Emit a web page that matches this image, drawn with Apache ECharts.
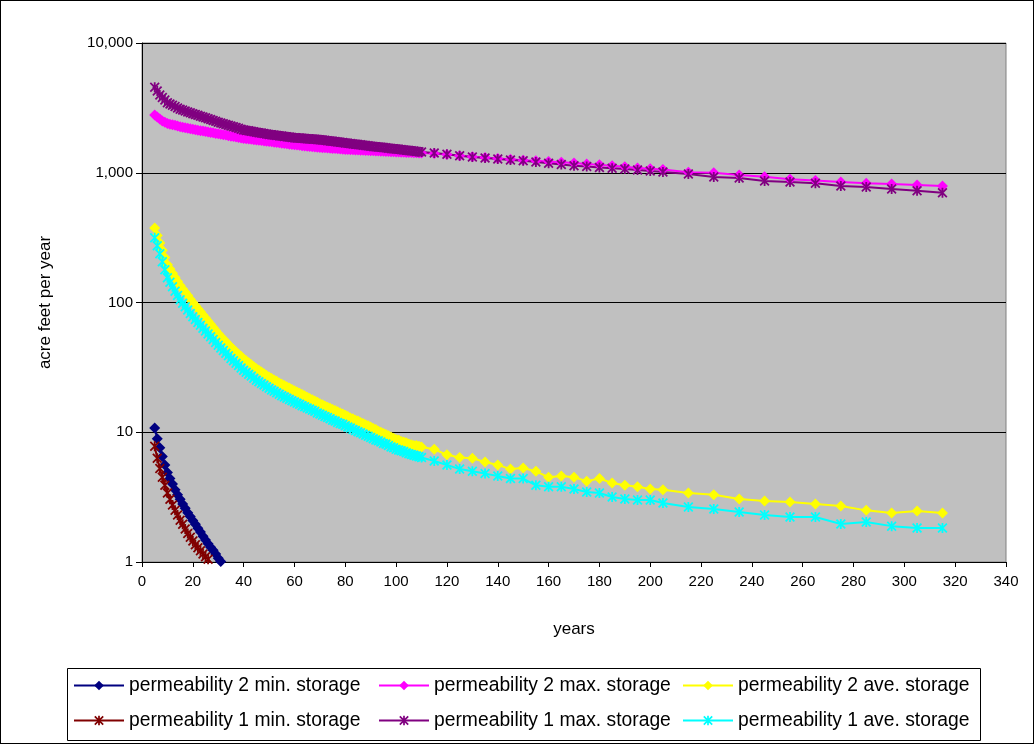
<!DOCTYPE html>
<html>
<head>
<meta charset="utf-8">
<script src="https://cdn.jsdelivr.net/npm/echarts@6/dist/echarts.min.js"></script>
<style>
html, body { margin: 0; padding: 0; background: #fff; }
#chart { width: 1034px; height: 744px; }
#frame { position: absolute; left: 0; top: 0; width: 1034px; height: 744px; box-sizing: border-box; border: 1px solid #000; pointer-events: none; }
</style>
</head>
<body>
<div id="chart"></div>
<div id="frame"></div>
<script>
// years: dense yearly values 5..110, then every 5 to 205, then every 10 to 315
var years = [
  5, 6, 7, 8, 9, 10, 11, 12, 13, 14,
  15, 16, 17, 18, 19, 20, 21, 22, 23, 24,
  25, 26, 27, 28, 29, 30, 31, 32, 33, 34,
  35, 36, 37, 38, 39, 40, 41, 42, 43, 44,
  45, 46, 47, 48, 49, 50, 51, 52, 53, 54,
  55, 56, 57, 58, 59, 60, 61, 62, 63, 64,
  65, 66, 67, 68, 69, 70, 71, 72, 73, 74,
  75, 76, 77, 78, 79, 80, 81, 82, 83, 84,
  85, 86, 87, 88, 89, 90, 91, 92, 93, 94,
  95, 96, 97, 98, 99, 100, 101, 102, 103, 104,
  105, 106, 107, 108, 109, 110,
  115, 120, 125, 130, 135, 140, 145, 150, 155, 160,
  165, 170, 175, 180, 185, 190, 195, 200, 205,
  215, 225, 235, 245, 255, 265, 275, 285, 295, 305, 315
];

// permeability 2 min. storage (from year 5)
var p2Min = [10.8, 8.9, 7.6, 6.5, 5.6, 4.9, 4.4, 4.0, 3.6, 3.3,
  3.05, 2.8, 2.6, 2.4, 2.24, 2.09, 1.95, 1.82, 1.70, 1.58,
  1.48, 1.38, 1.30, 1.23, 1.15, 1.07, 1.01, 0.95, 0.90];

// permeability 1 min. storage (from year 5)
var p1Min = [7.8, 6.3, 5.25, 4.5, 3.9, 3.4, 3.05, 2.75, 2.5, 2.3,
  2.1, 1.95, 1.8, 1.66, 1.55, 1.45, 1.36, 1.29, 1.22, 1.15,
  1.10, 1.05, 0.99, 0.93, 0.89];

// permeability 2 max. storage
var p2Max = [
  2790, 2690, 2600, 2510, 2455, 2400, 2370, 2340, 2320, 2290,
  2260, 2240, 2220, 2200, 2180, 2160, 2145, 2130, 2110, 2095,
  2080, 2060, 2045, 2030, 2010, 1995, 1980, 1965, 1950, 1930,
  1915, 1900, 1885, 1870, 1855, 1840, 1830, 1820, 1810, 1800,
  1790, 1780, 1770, 1760, 1750, 1740, 1730, 1720, 1710, 1700,
  1690, 1680, 1670, 1660, 1650, 1640, 1633, 1626, 1618, 1611,
  1603, 1596, 1589, 1581, 1574, 1567, 1561, 1556, 1551, 1545,
  1540, 1535, 1529, 1524, 1519, 1514, 1510, 1507, 1503, 1500,
  1496, 1493, 1489, 1486, 1482, 1479, 1476, 1472, 1469, 1465,
  1462, 1459, 1455, 1452, 1449, 1445, 1443, 1440, 1438, 1435,
  1432, 1430, 1427, 1425, 1422, 1420,
  1410, 1380, 1355, 1330, 1310, 1290, 1270, 1250, 1235, 1220,
  1205, 1190, 1170, 1150, 1130, 1110, 1090, 1075, 1060,
  1010, 1000, 960, 930, 890, 870, 850, 830, 820, 805, 790
];

// permeability 1 max. storage
var p1Max = [
  4570, 4270, 3980, 3800, 3630, 3470, 3390, 3310, 3240, 3160,
  3090, 3040, 2990, 2940, 2900, 2850, 2810, 2770, 2730, 2690,
  2650, 2610, 2570, 2530, 2490, 2455, 2421, 2388, 2355, 2323,
  2291, 2259, 2228, 2198, 2168, 2138, 2121, 2104, 2087, 2070,
  2053, 2037, 2021, 2004, 1988, 1972, 1961, 1950, 1939, 1928,
  1916, 1905, 1894, 1884, 1873, 1862, 1856, 1849, 1843, 1837,
  1830, 1824, 1818, 1811, 1805, 1799, 1788, 1778, 1768, 1758,
  1748, 1738, 1728, 1718, 1708, 1698, 1689, 1679, 1669, 1660,
  1650, 1641, 1632, 1622, 1613, 1603, 1595, 1587, 1579, 1571,
  1563, 1555, 1547, 1539, 1531, 1524, 1516, 1508, 1500, 1492,
  1484, 1476, 1468, 1460, 1453, 1445,
  1420, 1390, 1350, 1320, 1300, 1275, 1255, 1235, 1210, 1185,
  1160, 1130, 1115, 1100, 1085, 1070, 1050, 1030, 1013,
  980, 927, 910, 863, 850, 830, 790, 775, 750, 725, 700
];

// permeability 2 ave. storage
var p2Ave = [
  375, 329, 288, 253, 222, 195, 181, 168, 156, 145,
  135, 127, 120, 113, 106, 100, 94.6, 89.5, 84.7, 80.2,
  75.9, 71.8, 67.9, 64.3, 60.8, 57.5, 54.8, 52.2, 49.8, 47.4,
  45.2, 43.4, 41.6, 39.9, 38.3, 36.7, 35.5, 34.3, 33.1, 32.0,
  30.9, 30.0, 29.1, 28.2, 27.4, 26.6, 25.9, 25.3, 24.7, 24.0,
  23.4, 22.9, 22.4, 21.9, 21.4, 20.9, 20.4, 20.0, 19.5, 19.1,
  18.6, 18.2, 17.8, 17.4, 17.0, 16.6, 16.3, 15.9, 15.6, 15.3,
  15.0, 14.7, 14.4, 14.1, 13.8, 13.5, 13.2, 12.9, 12.7, 12.4,
  12.2, 11.9, 11.7, 11.4, 11.2, 11.0, 10.7, 10.5, 10.2, 10.0,
  9.8, 9.6, 9.4, 9.2, 9.0, 8.8, 8.7, 8.5, 8.4, 8.3,
  8.1, 8.0, 7.9, 7.9, 7.8, 7.7,
  7.4, 6.7, 6.4, 6.3, 5.9, 5.6, 5.2, 5.3, 5.0, 4.5,
  4.6, 4.5, 4.2, 4.4, 4.06, 3.9, 3.8, 3.65, 3.6,
  3.4, 3.3, 3.06, 2.95, 2.9, 2.8, 2.7, 2.5, 2.39, 2.47, 2.39
];

// permeability 1 ave. storage
var p1Ave = [
  316, 274, 238, 206, 179, 155, 143, 132, 122, 113,
  105, 98.6, 92.9, 87.5, 82.4, 77.6, 73.8, 70.1, 66.7, 63.4,
  60.3, 57.3, 54.5, 51.8, 49.2, 46.8, 44.6, 42.6, 40.6, 38.8,
  37.0, 35.5, 34.0, 32.7, 31.3, 30.1, 29.0, 28.0, 27.1, 26.1,
  25.2, 24.5, 23.8, 23.1, 22.4, 21.8, 21.2, 20.7, 20.2, 19.6,
  19.1, 18.7, 18.3, 17.9, 17.5, 17.1, 16.7, 16.4, 16.0, 15.7,
  15.4, 15.1, 14.8, 14.5, 14.1, 13.8, 13.5, 13.2, 13.0, 12.7,
  12.4, 12.2, 11.9, 11.7, 11.5, 11.2, 11.0, 10.8, 10.5, 10.3,
  10.1, 9.9, 9.7, 9.5, 9.3, 9.1, 8.9, 8.7, 8.6, 8.4,
  8.2, 8.1, 7.9, 7.7, 7.6, 7.4, 7.3, 7.2, 7.1, 6.95,
  6.84, 6.75, 6.65, 6.56, 6.47, 6.38,
  6.0, 5.6, 5.2, 5.0, 4.8, 4.6, 4.4, 4.4, 3.9, 3.8,
  3.8, 3.65, 3.46, 3.4, 3.17, 3.06, 3.0, 3.0, 2.85,
  2.65, 2.56, 2.43, 2.3, 2.22, 2.22, 1.96, 2.03, 1.89, 1.83, 1.83
];

var yTicks = [1, 10, 100, 1000, 10000];

// asterisk marker like Excel's "*"
var asterisk = 'path://M4.1,0H5.9V10H4.1Z M0,1.25L1.25,0L10,8.75L8.75,10Z M8.75,0L10,1.25L1.25,10L0,8.75Z';
var font = "'Liberation Sans', Arial, sans-serif";

function makeSeries(name, vals, color, symbol, size) {
  return {
    name: name,
    type: 'line',
    data: vals.map(function (v, i) { return [years[i], v]; }),
    symbol: symbol,
    symbolSize: size,
    showSymbol: true,
    showAllSymbol: true,
    clip: true,
    lineStyle: { color: color, width: 2 },
    itemStyle: { color: color, borderWidth: 0 },
    emphasis: { disabled: true }
  };
}

var myChart = echarts.init(document.getElementById('chart'));

// one legend per column, two rows each
function legendCol(left, names) {
  return {
    data: names,
    orient: 'vertical',
    left: left,
    top: 676,
    padding: 0,
    itemGap: 16,
    itemWidth: 50,
    itemHeight: 12,
    itemTextGap: 6,
    selectedMode: false,
    textStyle: { fontFamily: font, fontSize: 19.3, lineHeight: 14, color: '#000' }
  };
}

var option = {
  animation: false,
  backgroundColor: '#fff',
  grid: {
    left: 142, right: 28, top: 43, bottom: 182,
    show: true,
    backgroundColor: '#C0C0C0',
    borderColor: '#808080',
    borderWidth: 1
  },
  graphic: [{
    type: 'rect',
    left: 67, top: 668,
    shape: { width: 913, height: 72 },
    style: { fill: '#fff', stroke: '#000', lineWidth: 1 },
    silent: true,
    z: 0
  }],
  legend: [
    legendCol(73, ['permeability 2 min. storage', 'permeability 1 min. storage']),
    legendCol(378, ['permeability 2 max. storage', 'permeability 1 max. storage']),
    legendCol(682, ['permeability 2 ave. storage', 'permeability 1 ave. storage'])
  ],
  xAxis: {
    type: 'value',
    min: 0, max: 340, interval: 20,
    name: 'years',
    nameLocation: 'middle',
    nameGap: 59,
    nameTextStyle: { fontFamily: font, fontSize: 17, color: '#000' },
    axisLine: { show: true, lineStyle: { color: '#000', width: 1 } },
    axisTick: { show: true, length: 5, lineStyle: { color: '#000' } },
    axisLabel: { fontFamily: font, fontSize: 15, color: '#000', margin: 12 },
    splitLine: { show: false }
  },
  yAxis: {
    type: 'log',
    logBase: 10,
    min: yTicks[0], max: yTicks[yTicks.length - 1],
    name: 'acre feet per year',
    nameLocation: 'middle',
    nameGap: 88,
    nameTextStyle: { fontFamily: font, fontSize: 17, color: '#000' },
    axisLine: { show: true, lineStyle: { color: '#000', width: 1 } },
    axisTick: { show: true, length: 6, lineStyle: { color: '#000' } },
    axisLabel: {
      fontFamily: font, fontSize: 15, color: '#000', margin: 9,
      formatter: function (v) { return Math.round(v).toLocaleString('en-US'); }
    },
    splitLine: { show: true, lineStyle: { color: '#000', width: 1 } }
  },
  series: [
    makeSeries('permeability 2 min. storage', p2Min, '#000080', 'diamond', 11),
    makeSeries('permeability 2 max. storage', p2Max, '#FF00FF', 'diamond', 11),
    makeSeries('permeability 2 ave. storage', p2Ave, '#FFFF00', 'diamond', 11),
    makeSeries('permeability 1 min. storage', p1Min, '#800000', asterisk, 10),
    makeSeries('permeability 1 max. storage', p1Max, '#800080', asterisk, 10),
    makeSeries('permeability 1 ave. storage', p1Ave, '#00FFFF', asterisk, 10)
  ]
};

myChart.setOption(option);
</script>
</body>
</html>
